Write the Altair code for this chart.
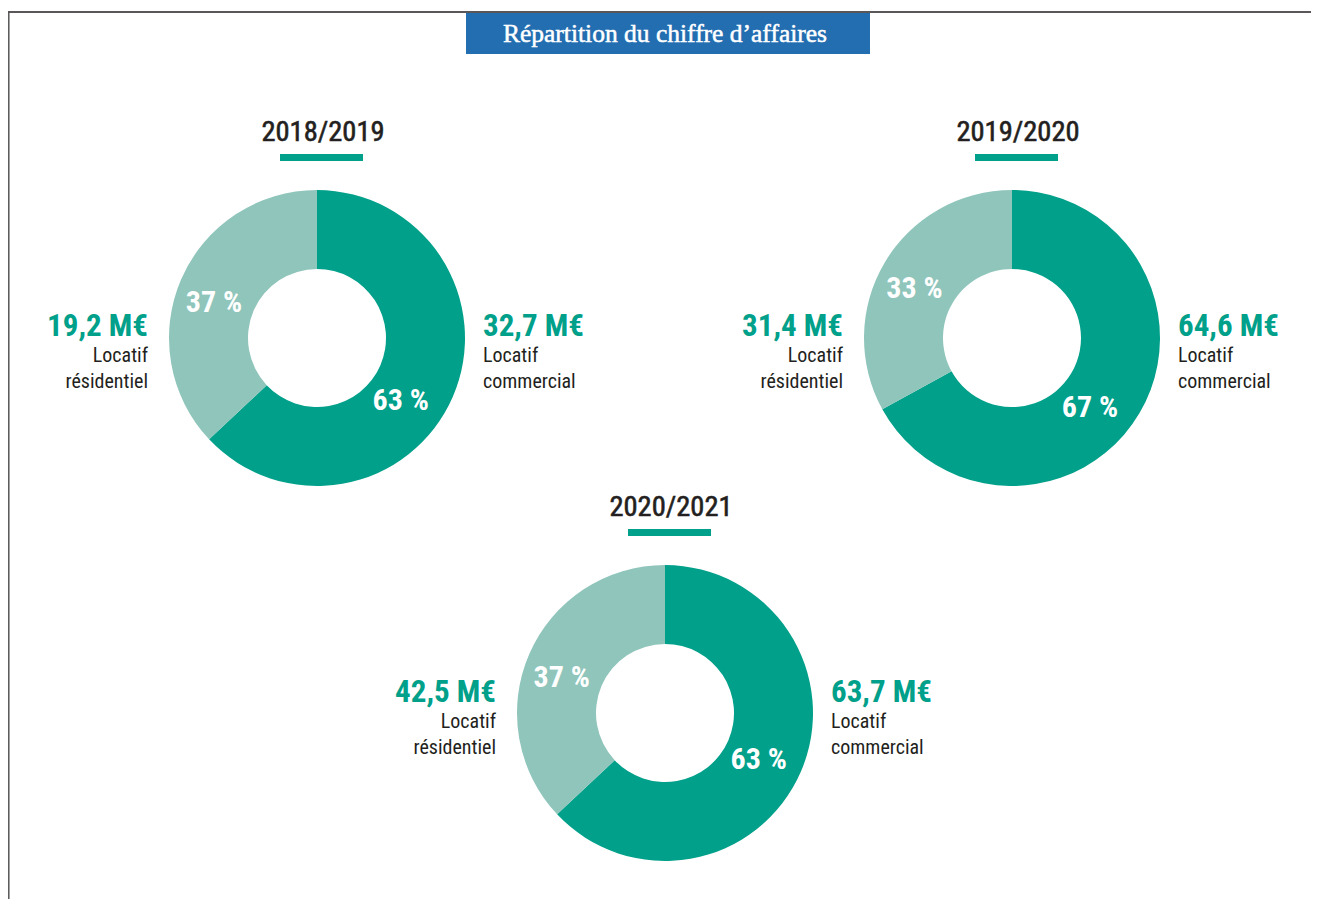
import altair as alt
import pandas as pd

# ---------------- data ----------------
years = ["2018/2019", "2019/2020", "2020/2021"]
segments = ["Locatif commercial", "Locatif résidentiel"]
commercial_meur = [32.7, 64.6, 63.7]
residential_meur = [19.2, 31.4, 42.5]
commercial_pct = [63, 67, 63]
residential_pct = [37, 33, 37]
title_text = "Répartition du chiffre d’affaires"

rows = []
for i, yr in enumerate(years):
    for k, (seg, m, p) in enumerate([
        (segments[0], commercial_meur[i], commercial_pct[i]),
        (segments[1], residential_meur[i], residential_pct[i]),
    ]):
        rows.append({
            "year": yr, "segment": seg, "order": k, "meur": m, "pct": p,
            "money": f"{m:.1f}".replace(".", ",") + " M€",
            "pct_label": f"{p} %",
        })
df = pd.DataFrame(rows)

# ---------------- layout / style ----------------
W, H = 1303, 891
LAYOUT = {  # centre x, centre y, label vertical shift, label angle offsets (commercial, residential)
    "2018/2019": (309, 330, 0, 0.24, -0.077),
    "2019/2020": (1004, 330, 0, 0.20, -0.07),
    "2020/2021": (657, 705, -9, 0.06, -0.084),
}
R_OUT, R_IN = 148, 69
R_TXT = {"Locatif commercial": 105, "Locatif résidentiel": 109}
TEAL = "#00A08A"
LIGHT = "#8FC5BB"
BLUE = "#236EB1"
DARK = "#231F20"
COND = "'Liberation Sans Narrow', 'Roboto Condensed', 'DejaVu Sans Condensed', 'Arial Narrow', sans-serif"
SERIF = "'Liberation Serif', 'DejaVu Serif', serif"

color = alt.Color("segment:N", scale=alt.Scale(domain=segments, range=[TEAL, LIGHT]), legend=None)
theta_scale = alt.Scale(domain=[0, 100])

layers = []

one = pd.DataFrame({"t": [title_text]})
# frame lines
layers.append(alt.Chart(one).mark_rule(color=DARK, strokeWidth=1.5).encode(
    x=alt.value(0), x2=alt.value(W), y=alt.value(4), y2=alt.value(4)))
layers.append(alt.Chart(one).mark_rule(color="#555555", strokeWidth=1.5).encode(
    x=alt.value(0.8), x2=alt.value(0.8), y=alt.value(4), y2=alt.value(H)))
# title box
layers.append(alt.Chart(one).mark_rect(color=BLUE).encode(
    x=alt.value(458), x2=alt.value(862), y=alt.value(5), y2=alt.value(46)))
layers.append(alt.Chart(one).mark_text(
    color="white", font=SERIF, fontSize=25.5, fontWeight="normal", stroke="white", strokeWidth=0.5,
    align="center", baseline="alphabetic", x=657, y=34).encode(text="t:N"))

for yr in years:
    cx, cy, dy, off_c, off_r = LAYOUT[yr]
    d = alt.Chart(df).transform_filter(alt.datum.year == yr)

    layers.append(d.mark_arc(x=cx, y=cy, outerRadius=R_OUT, innerRadius=R_IN).encode(
        theta=alt.Theta("pct:Q", stack=True, scale=theta_scale),
        color=color,
        order=alt.Order("order:Q"),
    ))

    mids = d.transform_window(
        cum="sum(pct)", sort=[alt.SortField("order")], frame=[None, 0]
    ).transform_calculate(mid="datum.cum - datum.pct / 2")

    for seg, off in [(segments[0], off_c), (segments[1], off_r)]:
        layers.append(mids.transform_filter(alt.datum.segment == seg).mark_text(
            x=cx, y=cy, radius=R_TXT[seg], thetaOffset=off, color="white", font=COND,
            fontSize=30, fontWeight="bold", align="center", baseline="middle",
        ).encode(theta=alt.Theta("mid:Q", scale=theta_scale), text="pct_label:N"))

    # year header + underline bar
    first = d.transform_filter(alt.datum.order == 0)
    layers.append(first.mark_text(
        x=cx + 6, y=cy - 197, color=DARK, font=COND, fontSize=28.5, fontWeight="normal",
        stroke=DARK, strokeWidth=0.6, align="center", baseline="alphabetic").encode(text="year:N"))
    layers.append(first.mark_rect(color=TEAL).encode(
        x=alt.value(cx - 37), x2=alt.value(cx + 46), y=alt.value(cy - 184), y2=alt.value(cy - 177)))

    # side labels
    for seg, align, lx in [(segments[0], "left", cx + 166), (segments[1], "right", cx - 169)]:
        s = d.transform_filter(alt.datum.segment == seg)
        layers.append(s.mark_text(
            x=lx, y=cy + dy - 2, color=TEAL, font=COND, fontSize=31, fontWeight="bold",
            align=align, baseline="alphabetic").encode(text="money:N"))
        layers.append(s.mark_text(
            x=lx, y=cy + dy + 24, color=DARK, font=COND, fontSize=20, lineBreak=" ",
            lineHeight=26, align=align, baseline="alphabetic").encode(text="segment:N"))

chart = alt.layer(*layers).properties(
    width=W, height=H, padding=0, autosize="none"
).configure_view(stroke=None)

chart.save("out.html", embed_options={"renderer": "svg", "actions": False})
